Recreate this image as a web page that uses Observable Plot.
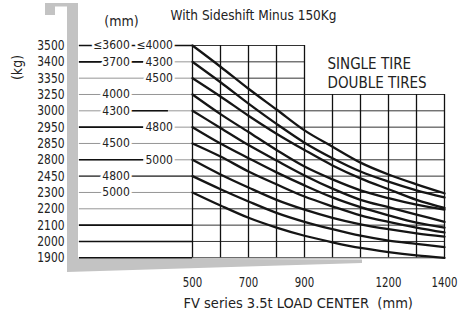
<!DOCTYPE html>
<html><head><meta charset="utf-8">
<script src="https://cdn.jsdelivr.net/npm/d3@7"></script>
<script src="https://cdn.jsdelivr.net/npm/@observablehq/plot@0.6"></script>
<style>
body{margin:0;background:#fff;}
#chart{width:471px;height:312px;overflow:hidden;}
</style></head><body><div id="chart"></div>
<script>
// ---- data ----
const capacityRows = [3500,3400,3350,3250,3000,2950,2850,2800,2450,2300,2200,2100,2000,1900];
const loadCenters = [500,600,700,800,900,1000,1100,1200,1300,1400];
const xTickLabels = [500,700,900,1200,1400];
const liftHeightsA = ["≤3600","3700",null,"4000","4300",null,"4500",null,"4800","5000",null,null,null,null];
const liftHeightsB = ["≤4000","4300","4500",null,null,"4800",null,"5000",null,null,null,null,null,null];
const curve1  = [3500,3385,3285,3020,2930,2840,2740,2485,2375,2295];
const curve2  = [3400,3325,3110,2960,2855,2805,2550,2400,2320,2270];
const curve3  = [3350,3220,2985,2910,2830,2680,2430,2330,2255,2205];
const curve4  = [3250,2990,2920,2830,2655,2420,2320,2265,2225,2195];
const curve5  = [3000,2945,2845,2785,2465,2335,2255,2210,2165,2120];
const curve6  = [2950,2850,2805,2530,2365,2270,2210,2160,2115,2085];
const curve7  = [2850,2810,2550,2375,2275,2215,2160,2120,2085,2055];
const curve8  = [2800,2485,2345,2255,2195,2145,2105,2075,2050,2030];
const curve9  = [2450,2330,2245,2175,2120,2075,2035,2005,1985,1965];
const curve10 = [2300,2220,2145,2085,2035,1995,1960,1935,1915,1900];
const curves = [curve1,curve2,curve3,curve4,curve5,curve6,curve7,curve8,curve9,curve10];
const titleText = "With Sideshift Minus 150Kg";
const xTitle = "FV series 3.5t LOAD CENTER\u00a0\u00a0(mm)";
const legendLines = ["SINGLE TIRE","DOUBLE TIRES"];

// ---- derived tables ----
const curveData = curves.flatMap((c, k) => loadCenters.map((x, i) => ({id: k, x, y: c[i]})));
const rowPix = capacityRows.map((_, i) => 45 + i * 16.33);
const leftStart = 96, leftEnd = 500;
const labelsA = capacityRows.map((r, i) => ({r, t: liftHeightsA[i]})).filter(d => d.t);
const labelsB = capacityRows.map((r, i) => ({r, t: liftHeightsB[i]})).filter(d => d.t);
const thickSegs = [
  [3500, leftStart, leftEnd], [3400, leftStart, 325], [3000, 282, 414],
  [2950, leftStart, 325], [2800, leftStart, 325],
  [2100, leftStart, leftEnd], [2000, leftStart, leftEnd], [1900, leftStart, leftEnd]
].map(([r, a, b]) => ({r, a, b}));

const FONT = '"DejaVu Sans Condensed","Liberation Sans Narrow","Arial Narrow",sans-serif';

function decor(index, scales, values, dims) {
  const g = d3.create("svg:g");
  g.append("path")
    .attr("fill", "#c3c3c3")
    .attr("d", "M45,3 L78,3 L78,258.5 L362,259.5 L362,263 L67,272 L67,6.5 L55,6.5 L55,15 L45,15 Z");
  return g.node();
}

const T = {fill: "#222", lineAnchor: "middle"};
const L = {fontSize: 12, fill: "#222", stroke: "#fff", strokeWidth: 5, paintOrder: "stroke", textAnchor: "end"};
const chart = Plot.plot({
  width: 471, height: 312,
  marginLeft: 80, marginRight: 27, marginTop: 45, marginBottom: 54,
  style: {fontFamily: FONT, background: "#fff", color: "#222"},
  x: {type: "linear", domain: [500, 1400], range: [192, 444]},
  y: {type: "linear", domain: capacityRows, range: rowPix},
  marks: [
    decor,
    Plot.ruleY(capacityRows, {y: d => d, x1: leftStart, x2: leftEnd, stroke: "#8a8a8a", strokeWidth: 0.9}),
    Plot.ruleY([2450], {x1: leftStart, x2: leftEnd, stroke: "#333", strokeWidth: 1.2}),
    Plot.ruleY(thickSegs, {y: "r", x1: "a", x2: "b", stroke: "#111", strokeWidth: 1.6}),
    Plot.ruleY(capacityRows, {y: d => d, x1: 500, x2: d => d >= 3350 ? 900 : 1400, stroke: "#333", strokeWidth: 1}),
    Plot.ruleX(loadCenters, {x: d => d, y1: d => d <= 900 ? 3500 : 3250, y2: 1900, stroke: "#111", strokeWidth: 1.3}),
    Plot.text(labelsA, {...L, x: 276, y: "r", text: "t", ariaLabel: "liftA"}),
    Plot.text(labelsB, {...L, x: 430, y: "r", text: "t", ariaLabel: "liftB"}),
    Plot.line(curveData, {x: "x", y: "y", z: "id", curve: "monotone-x", stroke: "#151515", strokeWidth: 2.3}),
    Plot.axisY(capacityRows, {tickSize: 0, tickPadding: 16, fontSize: 14.5, tickFormat: d => String(d)}),
    Plot.axisX(xTickLabels, {tickSize: 0, tickPadding: 18, fontSize: 14.5, tickFormat: d => String(d)}),
    Plot.text([titleText], {...T, frameAnchor: "top-left", dx: 90, dy: -30, textAnchor: "start", fontSize: 13.5}),
    Plot.text(["(mm)"], {...T, frameAnchor: "top-left", dx: 41, dy: -24, textAnchor: "middle", fontSize: 14}),
    Plot.text(["(kg)"], {...T, frameAnchor: "top-left", dx: -63, dy: 22, rotate: -90, textAnchor: "middle", fontSize: 14}),
    Plot.text([legendLines[0]], {...T, frameAnchor: "top-left", dx: 247, dy: 19, textAnchor: "start", fontSize: 15, ariaLabel: "legend"}),
    Plot.text([legendLines[1]], {...T, frameAnchor: "top-left", dx: 247, dy: 38, textAnchor: "start", fontSize: 15, ariaLabel: "legend"}),
    Plot.text([xTitle], {...T, frameAnchor: "bottom-left", dx: 103, dy: 45, textAnchor: "start", fontSize: 14.5})
  ]
});
document.getElementById("chart").appendChild(chart);

// narrow the condensed face horizontally to match the reference lettering
function squeeze(selector, s) {
  chart.querySelectorAll(selector).forEach(t => {
    const w = t.getComputedTextLength();
    if (w > 0) {
      t.setAttribute("textLength", (w * s).toFixed(2));
      t.setAttribute("lengthAdjust", "spacingAndGlyphs");
    }
  });
}
squeeze('g[aria-label="y-axis tick label"] text', 0.82);
squeeze('g[aria-label="x-axis tick label"] text', 0.78);
squeeze('g[aria-label="liftA"] text', 0.84);
squeeze('g[aria-label="liftB"] text', 0.84);
squeeze('g[aria-label="legend"] text', 0.95);
</script>
</body></html>
